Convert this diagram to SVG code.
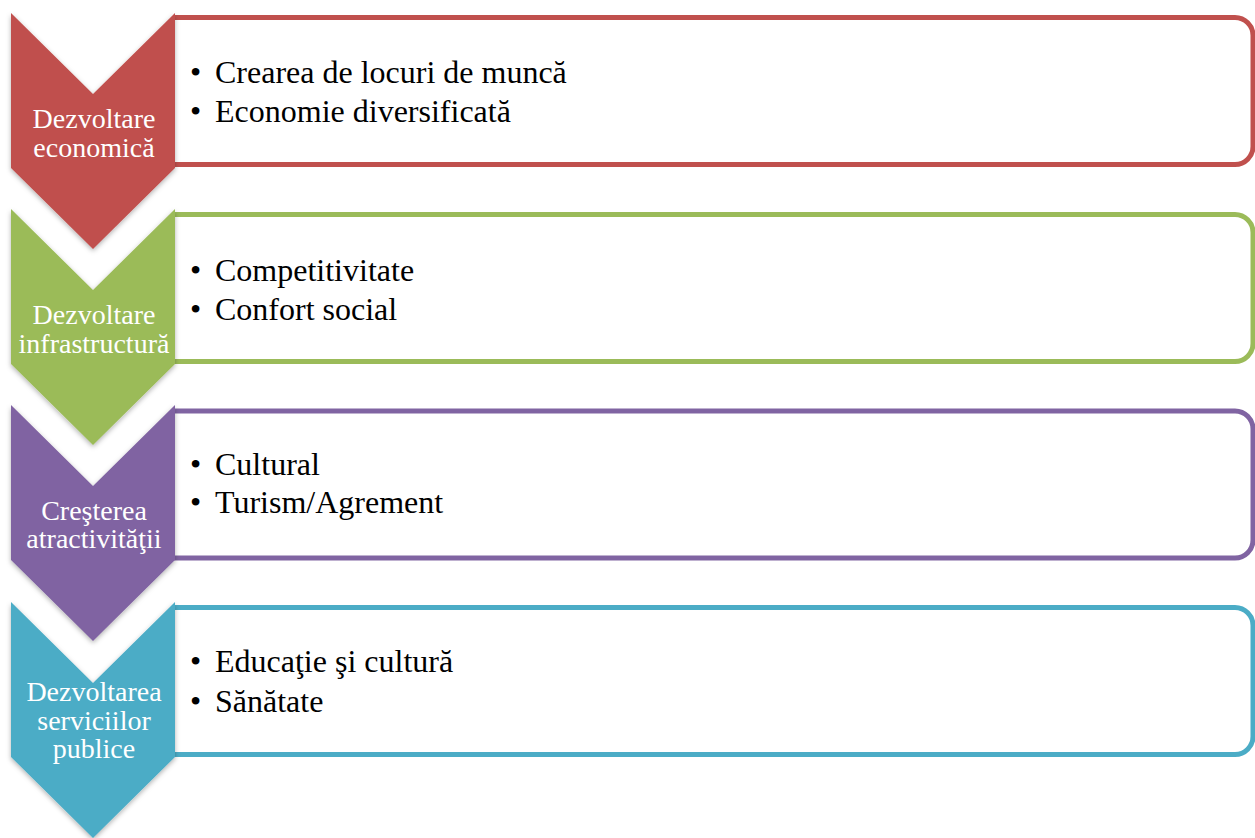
<svg xmlns="http://www.w3.org/2000/svg" width="1255" height="838" viewBox="0 0 1255 838">
<defs>
<style>
.box{fill:#FFFFFF;stroke-width:5}
.chev-label{font-family:"Liberation Serif","Times New Roman",serif;font-size:28px;fill:#FFFFFF;text-anchor:middle}
.item{font-family:"Liberation Serif","Times New Roman",serif;font-size:32px;fill:#000000}
</style>
<filter id="sh" x="-20%" y="-20%" width="140%" height="140%">
<feDropShadow dx="0" dy="2" stdDeviation="2.5" flood-color="#000000" flood-opacity="0.3"/>
</filter>
<polygon id="chev" points="11,13 93,94 175,13 175,168 93,249 11,168"/>
<path id="box" d="M174,0 H1235 A18,18 0 0 1 1253,18 V129 A18,18 0 0 1 1235,147 H174"/>
</defs>
<rect width="1255" height="838" fill="#FFFFFF"/>

<g id="node1">
<use href="#box" class="box" y="17.5" stroke="#C0504D"/>
<use href="#chev" fill="#C0504D" filter="url(#sh)"/>
<text class="chev-label" x="94" y="128">Dezvoltare</text>
<text class="chev-label" x="94" y="157">economică</text>
<text class="item" x="190" y="83">•</text><text class="item" x="215" y="83">Crearea de locuri de muncă</text>
<text class="item" x="190" y="122">•</text><text class="item" x="215" y="122">Economie diversificată</text>
</g>

<g id="node2">
<use href="#box" class="box" y="214.5" stroke="#9BBB59"/>
<use href="#chev" y="196" fill="#9BBB59" filter="url(#sh)"/>
<text class="chev-label" x="94" y="324">Dezvoltare</text>
<text class="chev-label" x="94" y="353">infrastructură</text>
<text class="item" x="190" y="281">•</text><text class="item" x="215" y="281">Competitivitate</text>
<text class="item" x="190" y="320">•</text><text class="item" x="215" y="320">Confort social</text>
</g>

<g id="node3">
<use href="#box" class="box" y="411" stroke="#8064A2"/>
<use href="#chev" y="392" fill="#8064A2" filter="url(#sh)"/>
<text class="chev-label" x="94" y="520">Creşterea</text>
<text class="chev-label" x="94" y="548">atractivităţii</text>
<text class="item" x="190" y="475">•</text><text class="item" x="215" y="475">Cultural</text>
<text class="item" x="190" y="513">•</text><text class="item" x="215" y="513">Turism/Agrement</text>
</g>

<g id="node4">
<use href="#box" class="box" y="607.5" stroke="#4BACC6"/>
<use href="#chev" y="589" fill="#4BACC6" filter="url(#sh)"/>
<text class="chev-label" x="94" y="701">Dezvoltarea</text>
<text class="chev-label" x="94" y="729.5">serviciilor</text>
<text class="chev-label" x="94" y="758">publice</text>
<text class="item" x="190" y="672">•</text><text class="item" x="215" y="672">Educaţie şi cultură</text>
<text class="item" x="190" y="712">•</text><text class="item" x="215" y="712">Sănătate</text>
</g>

<g id="connectors"></g>
</svg>
